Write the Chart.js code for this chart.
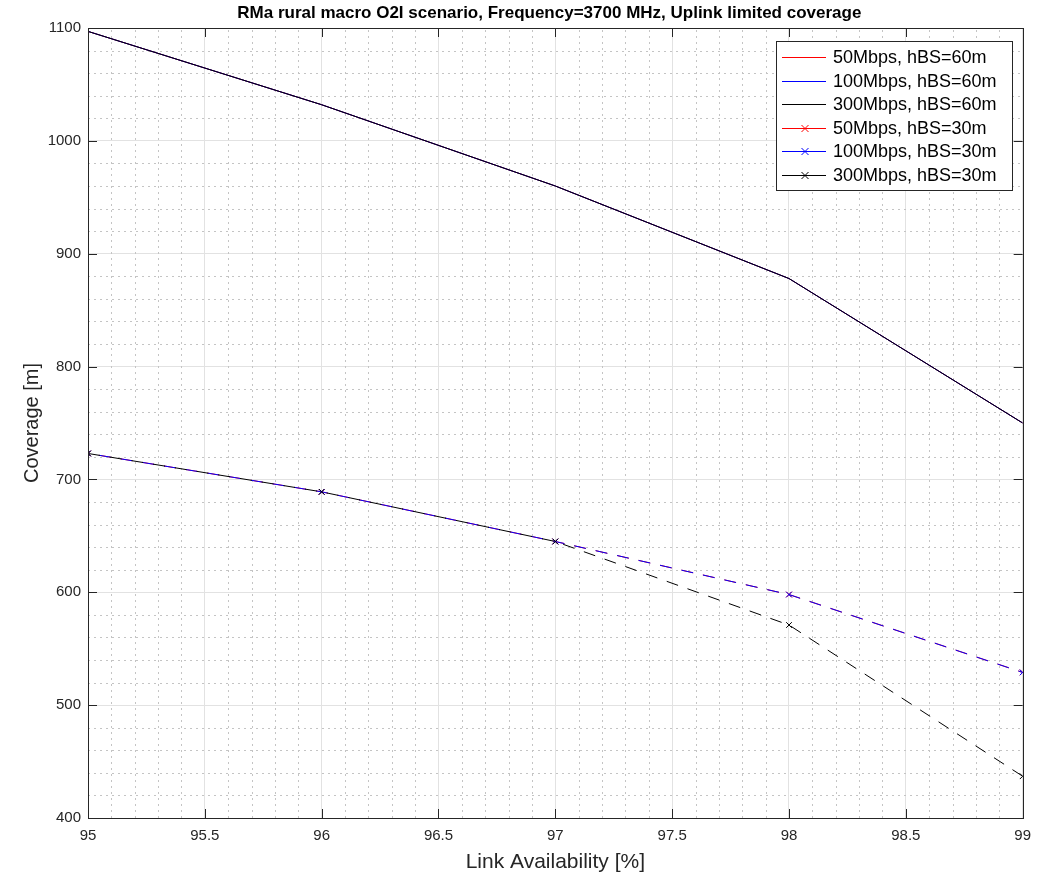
<!DOCTYPE html>
<html>
<head>
<meta charset="utf-8">
<script src="https://cdn.jsdelivr.net/npm/chart.js@4.4.1/dist/chart.umd.min.js"></script>
<style>
  html, body { margin: 0; padding: 0; background: #fff; }
  #wrap { width: 1040px; height: 873px; }
</style>
</head>
<body>
<div id="wrap"><canvas id="cov"></canvas></div>
<script>
// link availability [%]
const availability = [95, 96, 97, 98, 99];

// coverage [m], hBS = 60 m (all three rates coincide)
const cov50_60  = [1097, 1032, 960, 878, 750];
const cov100_60 = [1097, 1032, 960, 878, 750];
const cov300_60 = [1097, 1032, 960, 878, 750];

// coverage [m], hBS = 30 m
const cov50_30  = [723, 689, 645, 598, 529];
const cov100_30 = [723, 689, 645, 598, 529];
const cov300_30 = [723, 689, 645, 571, 437];

const seriesNames = [
  '50Mbps, hBS=60m', '100Mbps, hBS=60m', '300Mbps, hBS=60m',
  '50Mbps, hBS=30m', '100Mbps, hBS=30m', '300Mbps, hBS=30m'
];
const seriesColors = ['#ff0000', '#0000ff', '#000000', '#ff0000', '#0000ff', '#000000'];

const xTicks = [95, 95.5, 96, 96.5, 97, 97.5, 98, 98.5, 99];
const yTicks = [400, 500, 600, 700, 800, 900, 1000, 1100];

const TITLE = 'RMa rural macro O2I scenario, Frequency=3700 MHz, Uplink limited coverage';
const AXIS = '#262626';
const FONT = '"Liberation Sans", Arial, sans-serif';

const pts = ys => ys.map((y, i) => ({ x: availability[i], y }));

function solid(i, ys, order) {
  return { label: seriesNames[i], data: pts(ys), borderColor: seriesColors[i],
    backgroundColor: seriesColors[i], borderWidth: 1, pointRadius: 0, order, tension: 0 };
}
function dashed(i, ys, order, offset) {
  const c = seriesColors[i];
  return { label: seriesNames[i], data: pts(ys), borderColor: c, backgroundColor: c,
    borderWidth: 1, borderDash: [12, 10], borderDashOffset: offset,
    pointStyle: 'crossRot', pointRadius: 4, pointBorderColor: c,
    pointBorderWidth: 1, order, tension: 0 };
}

// minor dotted grid, inward ticks, full box, title and legend
const decor = {
  id: 'decor',
  beforeDatasetsDraw(chart) {
    const { ctx, chartArea: a, scales: { x, y } } = chart;
    ctx.save();
    ctx.strokeStyle = '#c4c4c4';
    ctx.lineWidth = 1;
    ctx.setLineDash([2, 4]);
    for (let v = 95.1; v < 99; v += 0.1) {
      if (Math.abs(v * 2 - Math.round(v * 2)) < 1e-6) continue;
      const px = Math.round(x.getPixelForValue(v)) + 0.5;
      ctx.beginPath(); ctx.moveTo(px, a.bottom); ctx.lineTo(px, a.top); ctx.stroke();
    }
    for (let v = 420; v < 1100; v += 20) {
      if (v % 100 === 0) continue;
      const py = Math.round(y.getPixelForValue(v)) + 0.5;
      ctx.beginPath(); ctx.moveTo(a.left, py); ctx.lineTo(a.right, py); ctx.stroke();
    }
    ctx.restore();
  },
  afterDatasetsDraw(chart) {
    const { ctx, chartArea: a, scales: { x, y } } = chart;
    ctx.save();
    ctx.strokeStyle = AXIS;
    ctx.lineWidth = 1;
    const tl = 9;
    xTicks.forEach(v => {
      const px = Math.round(x.getPixelForValue(v)) + 0.5;
      ctx.beginPath();
      ctx.moveTo(px, a.bottom); ctx.lineTo(px, a.bottom - tl);
      ctx.moveTo(px, a.top); ctx.lineTo(px, a.top + tl);
      ctx.stroke();
    });
    yTicks.forEach(v => {
      const py = Math.round(y.getPixelForValue(v)) + 0.5;
      ctx.beginPath();
      ctx.moveTo(a.left, py); ctx.lineTo(a.left + tl, py);
      ctx.moveTo(a.right, py); ctx.lineTo(a.right - tl, py);
      ctx.stroke();
    });
    ctx.strokeRect(Math.round(a.left) + 0.5, Math.round(a.top) + 0.5,
      Math.round(a.right - a.left), Math.round(a.bottom - a.top));
    ctx.restore();
  },
  afterDraw(chart) {
    const { ctx, chartArea: a } = chart;
    ctx.save();
    ctx.fillStyle = '#000';
    ctx.font = 'bold 17px ' + FONT;
    ctx.textAlign = 'center';
    ctx.textBaseline = 'middle';
    ctx.fillText(TITLE, (a.left + a.right) / 2 - 6, 13);

    // legend
    const bx = 776.5, by = 41.5, bw = 236, bh = 149;
    ctx.fillStyle = '#fff';
    ctx.fillRect(bx, by, bw, bh);
    ctx.strokeStyle = '#262626';
    ctx.lineWidth = 1;
    ctx.strokeRect(bx, by, bw, bh);
    ctx.font = '18px ' + FONT;
    ctx.textAlign = 'left';
    ctx.textBaseline = 'middle';
    seriesNames.forEach((name, i) => {
      const cy = Math.round(57 + i * 23.6) + 0.5;
      ctx.strokeStyle = seriesColors[i];
      ctx.setLineDash([]);
      ctx.beginPath(); ctx.moveTo(782, cy); ctx.lineTo(826, cy); ctx.stroke();
      if (i >= 3) {
        const r = 3.5, cx = 805;
        ctx.beginPath();
        ctx.moveTo(cx - r, cy - r); ctx.lineTo(cx + r, cy + r);
        ctx.moveTo(cx - r, cy + r); ctx.lineTo(cx + r, cy - r);
        ctx.stroke();
      }
      ctx.fillStyle = '#000';
      ctx.fillText(name, 833, cy + 1);
    });
    ctx.restore();
  }
};

new Chart(document.getElementById('cov'), {
  type: 'line',
  data: {
    datasets: [
      solid(0, cov50_60, 3),
      solid(1, cov100_60, 2),
      solid(2, cov300_60, 1),
      dashed(3, cov50_30, 3, 11),
      dashed(4, cov100_30, 2, 11),
      dashed(5, cov300_30, 1, 0)
    ]
  },
  options: {
    responsive: true,
    maintainAspectRatio: false,
    animation: false,
    layout: { padding: { top: 28, right: 16, left: 0, bottom: 0 } },
    plugins: { legend: { display: false }, title: { display: false }, tooltip: { enabled: false } },
    scales: {
      x: {
        type: 'linear', min: 95, max: 99,
        afterBuildTicks: s => { s.ticks = xTicks.map(v => ({ value: v })); },
        afterFit: s => { s.height = 55; },
        grid: { color: '#e2e2e2', drawTicks: false },
        border: { display: false },
        ticks: { callback: v => String(v), color: AXIS, font: { family: FONT, size: 15 },
          padding: 9, maxRotation: 0, autoSkip: false },
        title: { display: true, text: 'Link Availability [%]', color: AXIS,
          font: { family: FONT, size: 21, lineHeight: 1 }, padding: { top: 0, bottom: 0 } }
      },
      y: {
        type: 'linear', min: 400, max: 1100,
        afterBuildTicks: s => { s.ticks = yTicks.map(v => ({ value: v })); },
        afterFit: s => { s.width = 88; },
        grid: { color: '#e2e2e2', drawTicks: false },
        border: { display: false },
        ticks: { callback: v => String(v), color: AXIS, font: { family: FONT, size: 15 },
          padding: 7, autoSkip: false },
        title: { display: true, text: 'Coverage [m]', color: AXIS,
          font: { family: FONT, size: 20, lineHeight: 1.2 }, padding: { top: 20, bottom: 0 } }
      }
    }
  },
  plugins: [decor]
});
</script>
</body>
</html>
